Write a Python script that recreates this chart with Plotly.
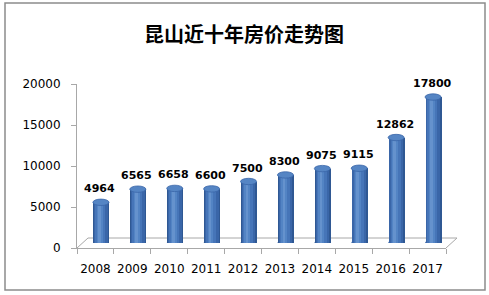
import plotly.graph_objects as go

years = ["2008", "2009", "2010", "2011", "2012", "2013", "2014", "2015", "2016", "2017"]
prices = [4964, 6565, 6658, 6600, 7500, 8300, 9075, 9115, 12862, 17800]
title_text = "昆山近十年房价走势图"

W, H = 489, 295
PX0, PX1 = 77, 446
PY_TOP, PY_BOT = 84, 248
DX, DY = 5.5, 5  # 3D depth shift of bars

def fx(px):
    return px / W

def fy(py):
    return (H - py) / H

fig = go.Figure()

idx = list(range(len(years)))
BW = 0.434
layers = [
    (0.434, 0.0, "#2F5893"),
    (0.37, -0.012, "#3A66A8"),
    (0.27, -0.03, "#4675B8"),
    (0.16, -0.045, "#5384C4"),
    (0.07, -0.055, "#6592CD"),
]
for w, c, col in layers:
    fig.add_trace(go.Bar(
        x=idx, y=prices, width=w, offset=c - w / 2,
        marker=dict(color=col, line=dict(width=0)),
        xaxis="x2", yaxis="y2", hoverinfo="skip", showlegend=False,
    ))

ry_units = 3.2 * 20000 / (PY_BOT - PY_TOP)
shapes = []
for i, v in zip(idx, prices):
    shapes.append(dict(type="circle", xref="x2", yref="y2", layer="below",
                       x0=i - BW / 2, x1=i + BW / 2, y0=-ry_units, y1=ry_units,
                       fillcolor="#3A66A8", line=dict(width=0)))
    shapes.append(dict(type="circle", xref="x2", yref="y2", layer="above",
                       x0=i - BW / 2, x1=i + BW / 2, y0=v - ry_units, y1=v + ry_units,
                       fillcolor="#5585C4", line=dict(color="#3A66A8", width=0.8)))

floor_col = "#A8A8A8"
FD = 11
shapes += [
    dict(type="line", xref="paper", yref="paper", x0=fx(PX0), y0=fy(PY_BOT), x1=fx(PX0 + FD), y1=fy(PY_BOT - FD + 1),
         line=dict(color=floor_col, width=1), layer="below"),
    dict(type="line", xref="paper", yref="paper", x0=fx(PX0 + FD), y0=fy(PY_BOT - FD + 1), x1=fx(PX1 + FD), y1=fy(PY_BOT - FD + 1),
         line=dict(color=floor_col, width=1), layer="below"),
    dict(type="line", xref="paper", yref="paper", x0=fx(PX1), y0=fy(PY_BOT), x1=fx(PX1 + FD), y1=fy(PY_BOT - FD + 1),
         line=dict(color=floor_col, width=1), layer="below"),
    dict(type="rect", xref="paper", yref="paper", x0=fx(5), y0=fy(290), x1=fx(485), y1=fy(3),
         line=dict(color="#8C8C8C", width=1.5)),
]

annotations = []
for i, v in zip(idx, prices):
    annotations.append(dict(x=i, y=v, xref="x2", yref="y2", text=f"<b>{v}</b>",
                            showarrow=False, yanchor="bottom", yshift=5, xshift=-1,
                            font=dict(family="DejaVu Sans", size=11, color="#000")))
annotations.append(dict(x=fx(244), y=fy(33), xref="paper", yref="paper", text=f"<b>{title_text}</b>",
                        showarrow=False, xanchor="center", yanchor="middle",
                        font=dict(family="Noto Sans CJK SC", size=20, color="#000")))

fig.update_layout(
    width=W, height=H, margin=dict(l=0, r=0, t=0, b=0),
    paper_bgcolor="white", plot_bgcolor="rgba(0,0,0,0)",
    barmode="overlay", bargap=0, showlegend=False,
    shapes=shapes, annotations=annotations,
    xaxis=dict(domain=[fx(PX0), fx(PX1)], type="category", categoryorder="array", categoryarray=years,
               range=[-0.5, 9.5], showline=True, linecolor=floor_col, linewidth=1,
               ticks="outside", tickson="boundaries", ticklen=5, tickcolor=floor_col, tickangle=0,
               showgrid=False, zeroline=False, automargin=False, ticklabelstandoff=10,
               tickfont=dict(family="DejaVu Sans", size=12, color="#000"), anchor="y"),
    yaxis=dict(domain=[fy(PY_BOT), fy(PY_TOP)], range=[0, 20000], dtick=5000, tickmode="linear", tick0=0,
               tickformat="d",
               showline=True, linecolor=floor_col, linewidth=1, ticks="outside", ticklen=5, tickcolor=floor_col,
               showgrid=False, zeroline=False, automargin=False, ticklabelstandoff=8,
               tickfont=dict(family="DejaVu Sans", size=12, color="#000"), anchor="x"),
    xaxis2=dict(domain=[fx(PX0 + DX), fx(PX1 + DX)], range=[-0.5, 9.5], visible=False, anchor="y2", automargin=False),
    yaxis2=dict(domain=[fy(PY_BOT - DY), fy(PY_TOP - DY)], range=[0, 20000], visible=False, anchor="x2", automargin=False),
)

fig.add_trace(go.Scatter(x=years, y=[None] * len(years), xaxis="x", yaxis="y", mode="markers",
                         showlegend=False, hoverinfo="skip"))

fig.write_html("out.html")
